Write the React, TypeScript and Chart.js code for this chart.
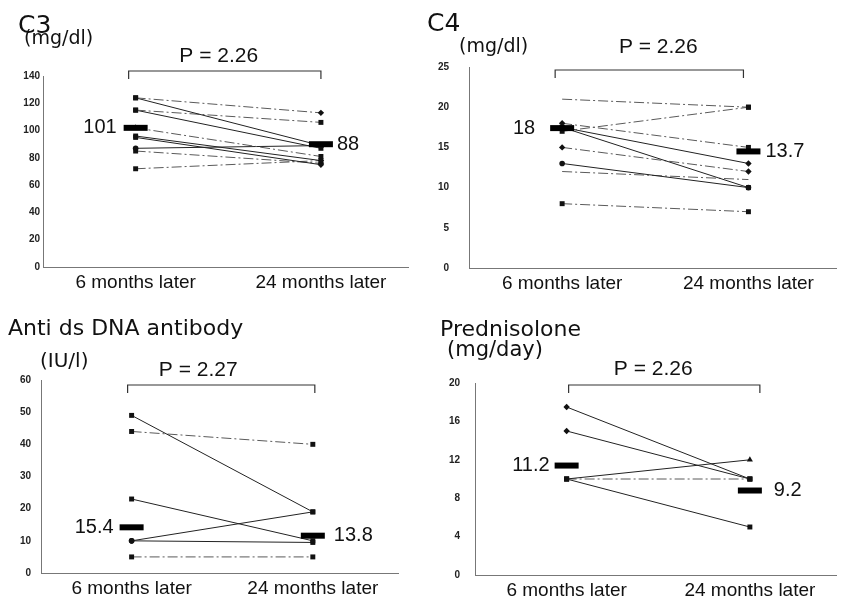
import React, { useEffect, useRef } from "react";
import { Chart, registerables } from "chart.js";
Chart.register(...registerables);

const categories = ["6 months later", "24 months later"];

// C3 (mg/dl)
const c3Before = [124, 124, 115, 115, 102, 96, 95, 87, 85, 72];
const c3After = [113, 89, 106, 87, 81, 78, 75, 89, 76, 78];
const c3Dashed = [true, false, true, false, true, false, false, false, true, true];
const c3StartMarks = ["rect", "rect", "rect", "rect", "triangle", "rect", "rect", "circle", "rect", "rect"];
const c3EndMarks = ["rectRot", "rect", "rect", "rect", "rect", "rectRot", "rectRot", "rect", "rectRot", "rect"];
const c3Mean = [102, 90];
const c3MeanLabels = ["101", "88"];

// C4 (mg/dl)
const c4Before = [21, 17, 18, 17.5, 17.5, 15, 13, 12, 8];
const c4After = [20, 20, 15, 13, 10, 12, 10, 11, 7];
const c4Dashed = [true, true, true, false, false, true, false, true, true];
const c4StartMarks = ["none", "rect", "rectRot", "rect", "rect", "rectRot", "circle", "none", "rect"];
const c4EndMarks = ["rect", "rect", "rect", "rectRot", "circle", "rectRot", "rect", "none", "rect"];
const c4Mean = [17.4, 14.5];
const c4MeanLabels = ["18", "13.7"];

// Anti ds DNA antibody (IU/l)
const dnaBefore = [49, 44, 23, 10, 10, 5];
const dnaAfter = [19, 40, 10, 19, 9.5, 5];
const dnaDashed = [false, true, false, false, false, true];
const dnaStartMarks = ["rect", "rect", "rect", "circle", "circle", "rect"];
const dnaEndMarks = ["rect", "rect", "rect", "rect", "rect", "rect"];
const dnaMean = [14.2, 11.6];
const dnaMeanLabels = ["15.4", "13.8"];

// Prednisolone (mg/day)
const predBefore = [17.5, 15, 10, 10, 10];
const predAfter = [10, 10, 12, 10, 5];
const predDashed = [false, false, false, true, false];
const predStartMarks = ["rectRot", "rectRot", "rect", "rect", "rect"];
const predEndMarks = ["rect", "rect", "triangle", "rect", "rect"];
const predMean = [11.4, 8.8];
const predMeanLabels = ["11.2", "9.2"];

const SANS = "'Liberation Sans', Arial, sans-serif";
const WIDE = "'DejaVu Sans', sans-serif";

function markerRadius(m: string) {
  if (m === "none") return 0;
  if (m === "rect") return 3.5;
  if (m === "rectRot") return 3.2;
  if (m === "triangle") return 3.5;
  return 2.8;
}

const decorPlugin = {
  id: "decor",
  afterDraw(chart: any, _args: any, o: any) {
    const { ctx } = chart;
    const xs = chart.scales.x;
    const ys = chart.scales.y;
    ctx.save();
    ctx.fillStyle = "#111";
    ctx.textBaseline = "middle";
    ctx.textAlign = "left";
    ctx.font = o.titleFont;
    ctx.fillText(o.title, o.titleX, o.titleY);
    ctx.font = o.unitFont;
    ctx.fillText(o.unit, o.unitX, o.unitY);
    // bracket
    const x1 = xs.getPixelForValue(1) + o.bl;
    const x2 = xs.getPixelForValue(2) + o.br;
    const by = o.bracketY;
    ctx.strokeStyle = "#333";
    ctx.lineWidth = 1.2;
    ctx.beginPath();
    ctx.moveTo(x1, by + 8);
    ctx.lineTo(x1, by);
    ctx.lineTo(x2, by);
    ctx.lineTo(x2, by + 8);
    ctx.stroke();
    ctx.textAlign = "center";
    ctx.font = "21px " + SANS;
    ctx.fillText(o.p, (x1 + x2) / 2 + o.pdx, o.pY);
    // mean labels
    ctx.font = "20px " + SANS;
    ctx.textAlign = "right";
    ctx.fillText(o.meanLabels[0], xs.getPixelForValue(1) - 12 - o.gaps[0], ys.getPixelForValue(o.mean[0]));
    ctx.textAlign = "left";
    ctx.fillText(o.meanLabels[1], xs.getPixelForValue(2) + 12 + o.gaps[1], ys.getPixelForValue(o.mean[1]));
    ctx.restore();
  },
};

type PanelProps = {
  left: number; top: number; w: number; h: number;
  area: { l: number; r: number; t: number; b: number };
  before: number[]; after: number[]; dashed: boolean[];
  startMarks: string[]; endMarks: string[];
  mean: number[]; meanLabels: string[];
  yMax: number; yStep: number; tickPad: number;
  decor: any;
};

function Panel(p: PanelProps) {
  const ref = useRef<HTMLCanvasElement>(null);
  useEffect(() => {
    if (!ref.current) return;
    const datasets: any[] = [
      {
        type: "line",
        data: [{ x: 1, y: p.mean[0] }, { x: 2, y: p.mean[1] }],
        showLine: false,
        pointStyle: "line",
        pointRadius: 12,
        pointBorderWidth: 6,
        pointBorderColor: "#000",
        borderColor: "#000",
        order: -1,
      },
    ];
    p.before.forEach((b, i) => {
      const sm = p.startMarks[i];
      const em = p.endMarks[i];
      datasets.push({
        type: "line",
        data: [{ x: 1, y: b }, { x: 2, y: p.after[i] }],
        borderColor: p.dashed[i] ? "#5a5a5a" : "#222",
        borderWidth: 1,
        borderDash: p.dashed[i] ? [10, 3, 2, 3] : [],
        pointStyle: [sm === "none" ? "circle" : sm, em === "none" ? "circle" : em],
        pointRadius: [markerRadius(sm), markerRadius(em)],
        pointBackgroundColor: "#111",
        pointBorderColor: "#111",
        pointBorderWidth: 0,
        fill: false,
        tension: 0,
        order: i,
      });
    });
    const chart = new Chart(ref.current, {
      type: "line",
      data: { datasets },
      plugins: [decorPlugin],
      options: {
        animation: false,
        responsive: false,
        devicePixelRatio: 1,
        layout: { padding: { left: 0, top: p.area.t, right: p.w - p.area.r, bottom: 0 } },
        plugins: {
          legend: { display: false },
          tooltip: { enabled: false },
          decor: { ...p.decor, mean: p.mean, meanLabels: p.meanLabels },
        } as any,
        scales: {
          x: {
            type: "linear",
            min: 0.5,
            max: 2.47,
            afterBuildTicks: (s: any) => {
              s.ticks = [{ value: 1 }, { value: 2 }];
            },
            afterFit: (s: any) => {
              s.height = p.h - p.area.b;
            },
            grid: { display: false, drawTicks: false },
            border: { display: true, color: "#777", width: 1 },
            ticks: {
              callback: (_v: any, i: number) => categories[i],
              font: { size: 19, family: SANS },
              color: "#111",
              padding: 4,
              maxRotation: 0,
              autoSkip: false,
            },
          },
          y: {
            min: 0,
            max: p.yMax,
            afterFit: (s: any) => {
              s.width = p.area.l;
            },
            grid: { display: false, drawTicks: false },
            border: { display: true, color: "#777", width: 1 },
            ticks: {
              stepSize: p.yStep,
              font: { size: 10, weight: "bold", family: SANS },
              color: "#222",
              padding: p.tickPad,
            },
          },
        },
      } as any,
    });
    return () => chart.destroy();
  }, []);
  return (
    <canvas
      ref={ref}
      width={p.w}
      height={p.h}
      style={{ position: "absolute", left: p.left, top: p.top, width: p.w, height: p.h }}
    />
  );
}

export default function App() {
  return (
    <div style={{ position: "fixed", left: 0, top: 0, width: 854, height: 606, background: "#fff", overflow: "hidden" }}>
      <Panel
        left={0} top={0} w={427} h={300}
        area={{ l: 43, r: 408, t: 76, b: 267 }}
        before={c3Before} after={c3After} dashed={c3Dashed}
        startMarks={c3StartMarks} endMarks={c3EndMarks}
        mean={c3Mean} meanLabels={c3MeanLabels}
        yMax={140} yStep={20} tickPad={3}
        decor={{
          title: "C3", titleFont: "25px " + WIDE, titleX: 18, titleY: 26,
          unit: "(mg/dl)", unitFont: "19px " + WIDE, unitX: 24, unitY: 39,
          p: "P = 2.26", pY: 56, pdx: -6, bracketY: 71, bl: -7, br: 0, gaps: [7, 4],
        }}
      />
      <Panel
        left={427} top={0} w={427} h={300}
        area={{ l: 42, r: 427, t: 67, b: 268 }}
        before={c4Before} after={c4After} dashed={c4Dashed}
        startMarks={c4StartMarks} endMarks={c4EndMarks}
        mean={c4Mean} meanLabels={c4MeanLabels}
        yMax={25} yStep={5} tickPad={20}
        decor={{
          title: "C4", titleFont: "25px " + WIDE, titleX: 0, titleY: 24,
          unit: "(mg/dl)", unitFont: "19px " + WIDE, unitX: 32, unitY: 47,
          p: "P = 2.26", pY: 47, pdx: 9, bracketY: 70, bl: -7, br: -5, gaps: [15, 5],
        }}
      />
      <Panel
        left={0} top={300} w={427} h={306}
        area={{ l: 41, r: 398, t: 80, b: 273 }}
        before={dnaBefore} after={dnaAfter} dashed={dnaDashed}
        startMarks={dnaStartMarks} endMarks={dnaEndMarks}
        mean={dnaMean} meanLabels={dnaMeanLabels}
        yMax={60} yStep={10} tickPad={10}
        decor={{
          title: "Anti ds DNA antibody", titleFont: "22px " + WIDE, titleX: 8, titleY: 29,
          unit: "(IU/l)", unitFont: "20px " + WIDE, unitX: 40, unitY: 62,
          p: "P = 2.27", pY: 70, pdx: -23, bracketY: 85, bl: -4, br: 2, gaps: [6, 9],
        }}
      />
      <Panel
        left={427} top={300} w={427} h={306}
        area={{ l: 48, r: 427, t: 83, b: 275 }}
        before={predBefore} after={predAfter} dashed={predDashed}
        startMarks={predStartMarks} endMarks={predEndMarks}
        mean={predMean} meanLabels={predMeanLabels}
        yMax={20} yStep={4} tickPad={15}
        decor={{
          title: "Prednisolone", titleFont: "22px " + WIDE, titleX: 13, titleY: 30,
          unit: "(mg/day)", unitFont: "21px " + WIDE, unitX: 20, unitY: 51,
          p: "P = 2.26", pY: 69, pdx: -11, bracketY: 85, bl: 2, br: 10, gaps: [5, 12],
        }}
      />
    </div>
  );
}
